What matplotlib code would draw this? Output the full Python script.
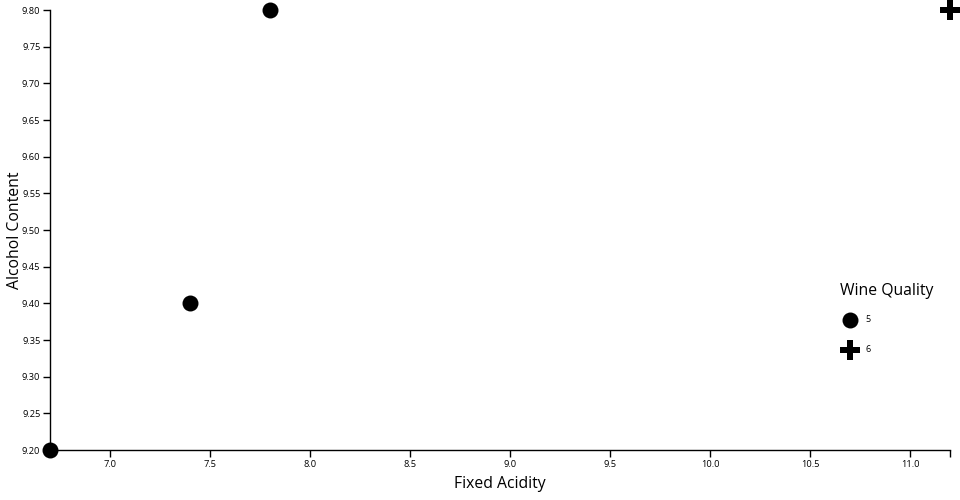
import matplotlib.pyplot as plt
from matplotlib.lines import Line2D

plt.rcParams['font.family'] = ['Open Sans', 'DejaVu Sans']

fixed_acidity = [6.7, 7.4, 7.8, 11.2]
alcohol = [9.2, 9.4, 9.8, 9.8]
quality = [5, 5, 5, 6]

markers = {5: 'o', 6: 'P'}
sizes = {5: 11.5, 6: 14}

W, H = 960, 500
fig = plt.figure(figsize=(9.6, 5), dpi=100)
ax = fig.add_axes([50 / W, 50 / H, 900 / W, 440 / H])

levels = sorted(set(quality))
for q in levels:
    xs = [x for x, qq in zip(fixed_acidity, quality) if qq == q]
    ys = [y for y, qq in zip(alcohol, quality) if qq == q]
    ax.plot(xs, ys, linestyle='none', marker=markers[q], markersize=sizes[q],
            color='black', markeredgewidth=0, clip_on=False, zorder=5)

ax.set_xlim(6.7, 11.2)
ax.set_ylim(9.2, 9.8)
ax.set_xticks([7.0, 7.5, 8.0, 8.5, 9.0, 9.5, 10.0, 10.5, 11.0])
ax.set_xticklabels([f'{v:.1f}' for v in ax.get_xticks()])
ax.set_yticks([9.2 + 0.05 * i for i in range(13)])
ax.set_yticklabels([f'{v:.2f}' for v in ax.get_yticks()])
ax.set_xticks([6.7, 11.2], minor=True)
ax.tick_params(which='both', direction='out', length=5, width=1, labelsize=6.7,
               colors='black', pad=2)

for s in ['top', 'right']:
    ax.spines[s].set_visible(False)
for s in ['left', 'bottom']:
    ax.spines[s].set_linewidth(1)

ax.set_xlabel('Fixed Acidity', fontsize=11.3, labelpad=5)
ax.set_ylabel('Alcohol Content', fontsize=11.3, labelpad=0)
ax.yaxis.set_label_coords(-27 / 900, 0.5)

# legend drawn by hand, d3 style
fig.text(840 / W, 1 - 291 / H, 'Wine Quality', fontsize=11.3, va='center', ha='left')
for i, q in enumerate(levels):
    yy = 1 - (320 + 30 * i) / H
    fig.add_artist(Line2D([850 / W], [yy], linestyle='none', marker=markers[q],
                          markersize=sizes[q], color='black', markeredgewidth=0,
                          transform=fig.transFigure))
    fig.text(865 / W, yy, str(q), fontsize=6.5, va='center', ha='left')

fig.savefig('out.png', dpi=100)
